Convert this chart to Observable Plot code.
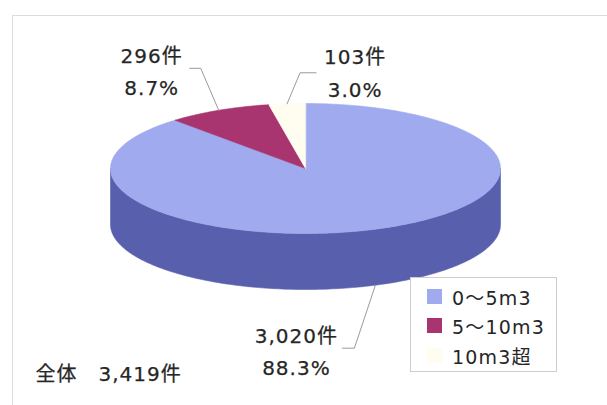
<!DOCTYPE html>
<html>
<head>
<meta charset="utf-8">
<script src="https://cdn.jsdelivr.net/npm/d3@7"></script>
<script src="https://cdn.jsdelivr.net/npm/@observablehq/plot@0.6"></script>
<style>
  html, body { margin: 0; padding: 0; background: #fff; }
  #chart { position: relative; width: 607px; height: 405px; overflow: hidden; }
  #chart svg text { letter-spacing: 1px; }
  .legend {
    position: absolute; left: 410px; top: 277px; width: 147px; height: 95px;
    box-sizing: border-box; border: 1px solid #cdcdcd; background: #fff;
    font: 19px "DejaVu Sans", "Noto Sans CJK JP", sans-serif; color: #262626;
    letter-spacing: 1.2px;
  }
  .legend .row { position: absolute; left: 16px; height: 22px; display: flex; align-items: center; white-space: nowrap; }
  .legend .sw { width: 15px; height: 15px; margin-right: 10px; flex: none; }
</style>
</head>
<body>
<div id="chart"></div>
<script>
// Volume classes and number of cases in each
const categories = ["0～5m3", "5～10m3", "10m3超"];
const counts = [3020, 296, 103];
const unitLabel = "件";
const totalCaption = "全体";

// Styling
const topColors = ["#a0aaee", "#a8356f", "#fffdf0"];
const sideColors = ["#5860ae", "#6e1f48", "#d8d6c8"];
const textColor = "#262626";
const leaderColor = "#9a9a9a";

// Disc geometry (pixels): centre, radii of the top ellipse, wall height
const cx = 305, cy = 168, rx = 195, ry = 65, wall = 56;
const depth = wall / ry; // wall height in y units

// Label placement relative to each slice's rim point (pixels)
const labelLayout = [
  {dx: -79, dy: 90, elbow: [-21, 63], end: [-33, 63]},
  {dx: -67, dy: -15, elbow: [-18, -42], end: [-29, -42]},
  {dx: 68, dy: -7, elbow: [13, -31], end: [29, -31]}
];

const total = d3.sum(counts);
const fmt = d3.format(",");
const arcs = d3.pie().sort(null).value(d => d)(counts);

// Points along the rim of the unit ellipse, angle 0 at 12 o'clock, clockwise
function rim(a0, a1, dy = 0) {
  const n = Math.max(2, Math.ceil((a1 - a0) / (Math.PI / 180)));
  return d3.range(n + 1).map(i => {
    const a = a0 + (a1 - a0) * i / n;
    return {x: Math.sin(a), y: -Math.cos(a) + dy};
  });
}

const marks = [Plot.frame({stroke: "#dcdcdc", insetRight: -10, insetBottom: -10})];

// Front wall (only the part facing the viewer, between 3 and 9 o'clock)
arcs.forEach((a, i) => {
  const lo = Math.max(a.startAngle, Math.PI / 2);
  const hi = Math.min(a.endAngle, 3 * Math.PI / 2);
  if (lo < hi) {
    const poly = [...rim(lo, hi), ...rim(lo, hi, depth).reverse()];
    marks.push(Plot.line(poly, {x: "x", y: "y", fill: sideColors[i], stroke: sideColors[i], strokeWidth: 0.6, curve: "linear-closed"}));
  }
});

// Top faces
arcs.forEach((a, i) => {
  const poly = [{x: 0, y: 0}, ...rim(a.startAngle, a.endAngle)];
  marks.push(Plot.line(poly, {x: "x", y: "y", fill: topColors[i], stroke: topColors[i], strokeWidth: 0.6, curve: "linear-closed"}));
});

// Leader lines and data labels
arcs.forEach((a, i) => {
  const m = (a.startAngle + a.endAngle) / 2;
  const ax = Math.sin(m);
  const ay = -Math.cos(m) + (Math.cos(m) < 0 ? depth : 0);
  const L = labelLayout[i];
  const path = [
    {x: ax, y: ay},
    {x: ax + L.elbow[0] / rx, y: ay + L.elbow[1] / ry},
    {x: ax + L.end[0] / rx, y: ay + L.end[1] / ry}
  ];
  marks.push(Plot.line(path, {x: "x", y: "y", stroke: leaderColor, strokeWidth: 1}));
  const pct = (counts[i] / total * 100).toFixed(1);
  marks.push(Plot.text([`${fmt(counts[i])}${unitLabel}\n${pct}%`], {
    x: () => ax, y: () => ay, dx: L.dx, dy: L.dy,
    textAnchor: "middle", lineAnchor: "bottom", lineHeight: 1.62,
    fontSize: 20, fill: textColor, stroke: textColor, strokeWidth: 0.25
  }));
});

// Overall total
marks.push(Plot.text([`${totalCaption}　${fmt(total)}${unitLabel}`], {
  frameAnchor: "top-left", dx: 23, dy: 365, textAnchor: "start", lineAnchor: "bottom",
  fontSize: 20, fill: textColor, stroke: textColor, strokeWidth: 0.25
}));

const chart = Plot.plot({
  width: 607, height: 405,
  marginLeft: 12, marginTop: 15, marginRight: 0, marginBottom: 0,
  x: {domain: [-1, 1], range: [cx - rx, cx + rx], axis: null},
  y: {domain: [-1, 1], range: [cy - ry, cy + ry], axis: null},
  style: {fontFamily: "'DejaVu Sans', 'Noto Sans CJK JP', sans-serif", background: "#fff", overflow: "hidden"},
  marks
});

const root = document.getElementById("chart");
root.appendChild(chart);

// Legend
const legend = d3.select(root).append("div").attr("class", "legend");
categories.forEach((c, i) => {
  const row = legend.append("div").attr("class", "row").style("top", `${7 + i * 29.5}px`);
  row.append("div").attr("class", "sw").style("background", topColors[i]);
  row.append("span").text(c);
});
</script>
</body>
</html>
